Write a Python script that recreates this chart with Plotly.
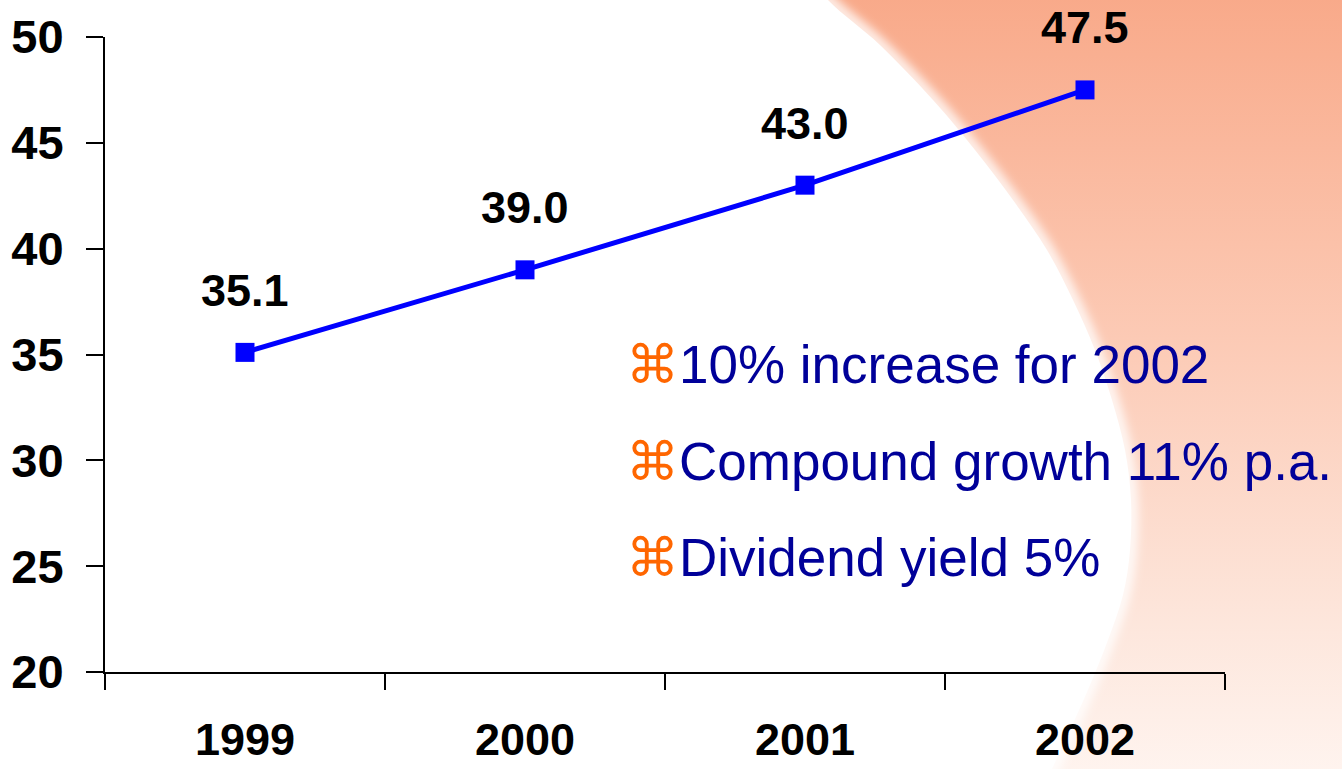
import base64
import plotly.graph_objects as go

# ---- data ----
years = ["1999", "2000", "2001", "2002"]
values = [35.1, 39.0, 43.0, 47.5]
value_labels = ["35.1", "39.0", "43.0", "47.5"]
y_ticks = [20, 25, 30, 35, 40, 45, 50]
bullets = ["10% increase for 2002", "Compound growth 11% p.a.", "Dividend yield 5%"]

W, H = 1342, 769
ML, MR, MT, MB = 105, 117, 37, 97
PW, PH = W - ML - MR, H - MT - MB

# ---- background (orange swoosh with white ellipse) as inline SVG ----
pts = [(800, -40), (828, 0), (880, 45), (933, 100), (975, 150), (1013, 200),
       (1047, 250), (1073, 300), (1095, 350), (1112, 400), (1125, 450),
       (1131, 500), (1130, 550), (1123, 595), (1108, 640), (1090, 685),
       (1070, 730), (1052, 769), (1038, 800)]


def catmull(p):
    d = "M %.1f %.1f " % p[0]
    for i in range(len(p) - 1):
        p0 = p[i - 1] if i > 0 else p[i]
        p1, p2 = p[i], p[i + 1]
        p3 = p[i + 2] if i + 2 < len(p) else p[i + 1]
        c1 = (p1[0] + (p2[0] - p0[0]) / 6, p1[1] + (p2[1] - p0[1]) / 6)
        c2 = (p2[0] - (p3[0] - p1[0]) / 6, p2[1] - (p3[1] - p1[1]) / 6)
        d += "C %.1f %.1f %.1f %.1f %.1f %.1f " % (c1 + c2 + p2)
    return d


curve = catmull(pts)
orange_path = curve + "L 1400 800 L 1400 -40 Z"
svg = f'''<svg xmlns="http://www.w3.org/2000/svg" width="{W}" height="{H}" viewBox="0 0 {W} {H}">
<defs>
<linearGradient id="g" x1="0" y1="0" x2="0" y2="1">
<stop offset="0" stop-color="#F8A685"/>
<stop offset="0.45" stop-color="#FCCAB5"/>
<stop offset="0.8" stop-color="#FDE7DD"/>
<stop offset="1" stop-color="#FFF6F2"/>
</linearGradient>
<filter id="b" x="-20%" y="-20%" width="140%" height="140%"><feGaussianBlur stdDeviation="5"/></filter>
</defs>
<rect x="0" y="0" width="{W}" height="{H}" fill="#FFFFFF"/>
<path d="{orange_path}" fill="url(#g)"/>
<path d="{curve}" fill="none" stroke="#FFFFFF" stroke-width="14" stroke-opacity="0.8" filter="url(#b)"/>
</svg>'''
src = "data:image/svg+xml;base64," + base64.b64encode(svg.encode()).decode()

fig = go.Figure()
fig.add_trace(go.Scatter(
    x=years, y=values, mode="lines+markers",
    line=dict(color="#0000FF", width=5),
    marker=dict(symbol="square", size=19, color="#0000FF"),
    cliponaxis=False, showlegend=False, hoverinfo="skip",
))

for i, (yv, t) in enumerate(zip(values, value_labels)):
    fig.add_annotation(x=i, y=yv, xref="x", yref="y", text=t, showarrow=False,
                       yshift=62,
                       font=dict(family="Liberation Sans, Arial", size=45,
                                 color="#000000", weight="bold"))

bullet_y_px = [364, 461, 557]
for t, ypx in zip(bullets, bullet_y_px):
    fig.add_annotation(
        xref="paper", yref="paper",
        x=(624 - ML) / PW, y=(MT + PH - ypx) / PH,
        xanchor="left", yanchor="middle", showarrow=False,
        text='<span style="color:#FF6600">\u2318</span>' + t,
        font=dict(family="Liberation Sans, Arial", size=53, color="#000099"),
    )

fig.add_layout_image(dict(
    source=src, xref="paper", yref="paper",
    x=-ML / PW, y=1 + MT / PH, sizex=W / PW, sizey=H / PH,
    xanchor="left", yanchor="top", sizing="stretch", layer="below", opacity=1,
))

fig.update_layout(
    width=W, height=H,
    margin=dict(l=ML, r=MR, t=MT, b=MB, pad=0, autoexpand=False),
    paper_bgcolor="rgba(0,0,0,0)", plot_bgcolor="rgba(0,0,0,0)",
    font=dict(family="Liberation Sans, Arial", color="#000000"),
    xaxis=dict(
        type="category", range=[-0.5, 3.5], tickson="boundaries",
        automargin=False,
        showline=True, linecolor="#000000", linewidth=2,
        ticks="outside", ticklen=16, tickwidth=2, tickcolor="#000000",
        showgrid=False, zeroline=False, ticklabelstandoff=27,
        tickfont=dict(size=45, weight="bold", family="Liberation Sans, Arial"),
    ),
    yaxis=dict(
        range=[20, 50], tickvals=y_ticks, automargin=False,
        showline=True, linecolor="#000000", linewidth=2,
        ticks="outside", ticklen=17, tickwidth=2, tickcolor="#000000",
        showgrid=False, zeroline=False, ticklabelstandoff=13,
        tickfont=dict(size=47, weight="bold", family="Liberation Sans, Arial"),
    ),
)

fig.write_html("out.html")
